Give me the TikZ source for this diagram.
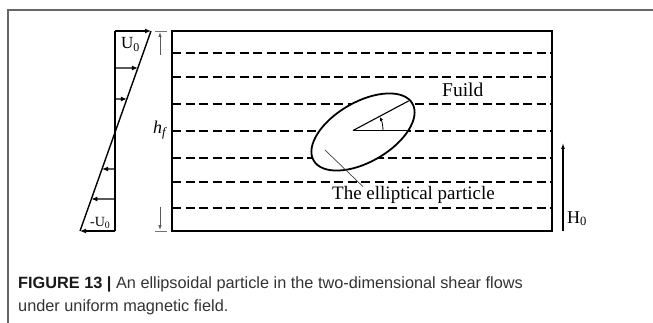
\documentclass[tikz,border=0pt]{standalone}
\usepackage{fontspec}
\setmainfont{Liberation Serif}
\newfontfamily\capfont{Liberation Sans}
\usetikzlibrary{arrows.meta,calc}
\begin{document}
\begin{tikzpicture}[x=1pt,y=1pt,
  frameline/.style={draw=black!60,line width=1.2pt},
  boxline/.style={draw=black,line width=2pt},
  dashline/.style={draw=black,line width=1.8pt,dash pattern=on 9pt off 4.5pt},
  profline/.style={draw=black,line width=1.4pt},
  profarrow/.style={draw=black,line width=1.4pt,-{Latex[length=6pt,width=5pt]}},
  dimarrow/.style={draw=black!65,line width=0.8pt,-{Latex[length=5pt,width=3.5pt]}},
  dimtick/.style={draw=black!55,line width=0.8pt},
  lbl/.style={inner sep=0pt,anchor=base west},
  captext/.style={inner sep=0pt,anchor=base west,text=black!80,font=\capfont\fontsize{16.3}{16.3}\selectfont}]
\useasboundingbox (0,0) rectangle (653,-323);
% outer frame
\coordinate (fbl) at (8,-323);
\coordinate (ftl) at (8,-10);
\coordinate (ftr) at (653,-10);
\draw[frameline] (fbl) -- (ftl) -- (ftr);
% dashed flow lines
\foreach \yy in {53,77,104,131,158,182,208}{
  \draw[dashline] (172,-\yy) -- (552,-\yy);
}
% particle
\coordinate (C) at (363,-132);
\coordinate (O) at (353,-130.5);
\draw[line width=1.8pt,fill=white,rotate around={30:(C)}] (C) ellipse [x radius=57, y radius=30];
\begin{scope}
  \clip[rotate around={30:(C)}] (C) ellipse [x radius=56, y radius=29];
  \draw[line width=1.1pt] (O) -- ++(0:90);
  \draw[line width=1.1pt] (O) -- ++(28:90);
\end{scope}
\draw[line width=0.8pt,-{Latex[length=4pt,width=3.5pt]}] ($(O)+(30,0)$) arc[start angle=0,end angle=27,radius=30];
% main box
\draw[boxline] (172,-31) rectangle (552,-231);
% labels
\node[lbl,font=\fontsize{19}{19}\selectfont] (particle) at (332,-200) {The elliptical particle};
\coordinate (pin) at (325,-150);
\draw[draw=black!75,line width=0.7pt] (pin) -- (particle.north west -| 363,0) ;
\node[lbl,font=\fontsize{19.5}{19.5}\selectfont] (fluid) at (442,-97) {Fuild};
% velocity profile
\coordinate (T) at (151,-31);
\coordinate (B) at (80,-231);
\coordinate (VT) at (115,-31);
\coordinate (VB) at (115,-231);
\draw[profline] (VT) -- (VB);
\draw[profline] (T) -- (B);
\draw[profarrow] (VT) -- (T);
\draw[profarrow] (VB) -- (B);
\foreach \yy in {68,99,169,199}{
  \pgfmathsetmacro{\tt}{(\yy-31)/200}
  \draw[profarrow] (115,-\yy) -- ($(T)!\tt!(B)$);
}
\node[lbl,font=\fontsize{17}{17}\selectfont] (u0) at (121,-49) {U\textsubscript{0}};
\node[lbl,font=\fontsize{14}{14}\selectfont] (mu0) at (90,-226.5) {-U\textsubscript{0}};
% h_f dimension
\node[lbl,font=\fontsize{18}{18}\itshape\selectfont] (hf) at (153,-134) {h\textsubscript{f}};
\coordinate (h1) at (160,-55);
\coordinate (h2) at (160,-32);
\coordinate (h3) at (160,-207);
\coordinate (h4) at (160,-230);
\draw[dimarrow] (h1) -- (h2);
\draw[dimarrow] (h3) -- (h4);
\draw[dimtick] (155,-31) -- (167,-31);
\draw[dimtick] (155,-231) -- (167,-231);
% magnetic field
\coordinate (m1) at (563,-231);
\coordinate (m2) at (563,-143);
\draw[line width=1.1pt,-{Latex[length=6pt,width=4pt]}] (m1) -- (m2);
\node[lbl,font=\fontsize{18}{18}\selectfont] (h0) at (567,-223) {H\textsubscript{0}};
% caption
\node[captext] (cap1) at (18,-288) {\textbf{\color{black!90}FIGURE 13 |} An ellipsoidal particle in the two-dimensional shear flows};
\node[captext] (cap2) at (18,-311) {under uniform magnetic field.};
\end{tikzpicture}
\end{document}
